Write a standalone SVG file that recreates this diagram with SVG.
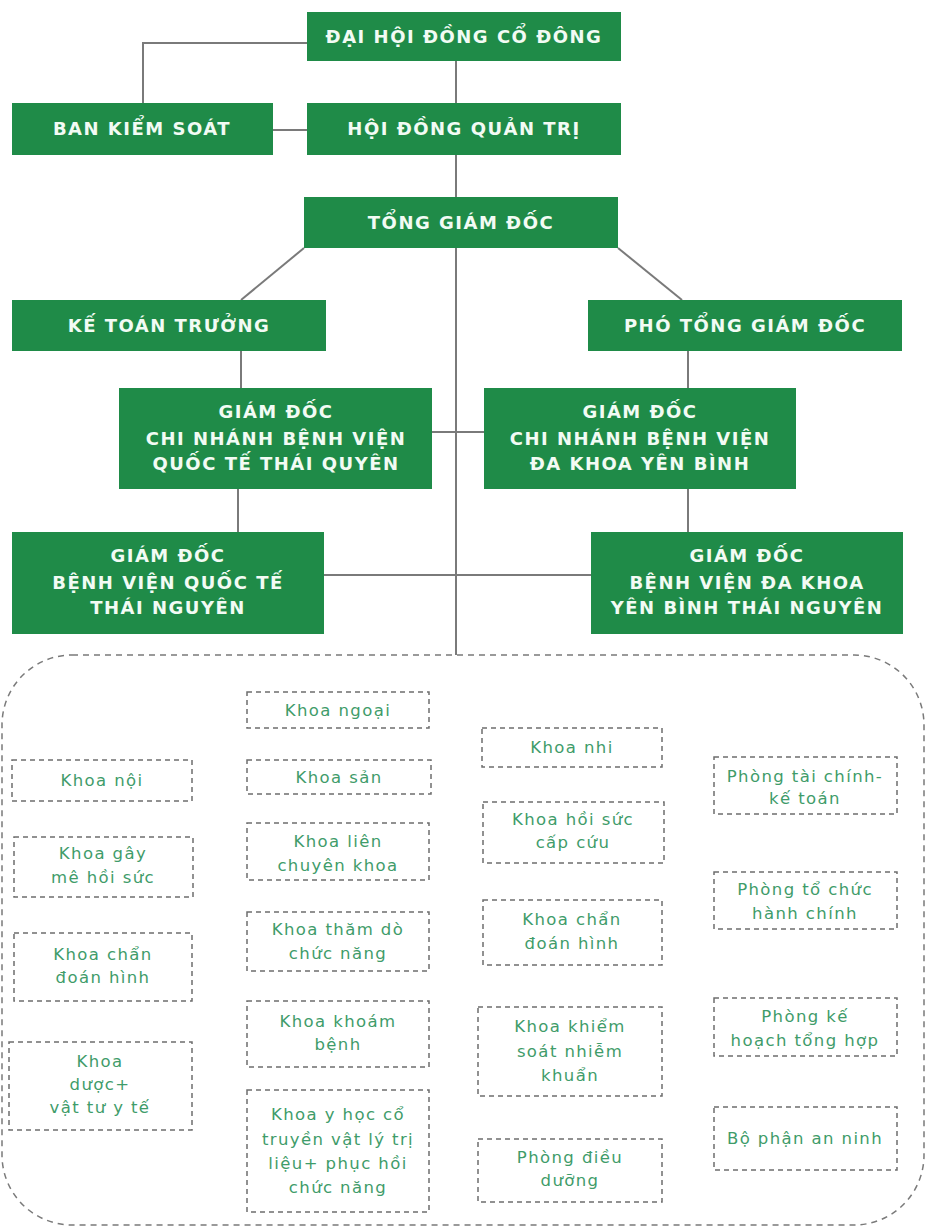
<svg xmlns="http://www.w3.org/2000/svg" width="927" height="1231" viewBox="0 0 927 1231">
<style>
.box{fill:#1f8b48}
.t{font-family:"DejaVu Sans",sans-serif;font-weight:bold;font-size:18px;fill:#f2fbf4;text-anchor:middle;letter-spacing:1.5px}
.c{stroke:#7a7a7a;stroke-width:2;fill:none}
.d{fill:#ffffff;stroke:#6e6e6e;stroke-width:1.5;stroke-dasharray:5 4}
.s{font-family:"DejaVu Sans",sans-serif;font-size:16.5px;fill:#3f9c6a;text-anchor:middle;letter-spacing:1.4px}
.frame{fill:none;stroke:#7a7a7a;stroke-width:1.5;stroke-dasharray:6 5}
</style>
<rect width="927" height="1231" fill="#ffffff"/>
<rect class="frame" x="2" y="655" width="922" height="570" rx="70"/>
<g id="connectors">
<polyline class="c" points="307,43 143,43 143,103"/>
<line class="c" x1="273" y1="130" x2="307" y2="130"/>
<line class="c" x1="456" y1="61" x2="456" y2="103"/>
<line class="c" x1="456" y1="155" x2="456" y2="197"/>
<line class="c" x1="456" y1="248" x2="456" y2="655"/>
<line class="c" x1="304" y1="248" x2="241" y2="300"/>
<line class="c" x1="618" y1="248" x2="682" y2="300"/>
<line class="c" x1="241" y1="351" x2="241" y2="388"/>
<line class="c" x1="688" y1="351" x2="688" y2="388"/>
<line class="c" x1="432" y1="432" x2="484" y2="432"/>
<line class="c" x1="238" y1="489" x2="238" y2="532"/>
<line class="c" x1="688" y1="489" x2="688" y2="532"/>
<line class="c" x1="324" y1="575" x2="591" y2="575"/>
</g>
<g id="dhdcd"><rect class="box" x="307" y="12" width="314" height="49"/><text class="t" x="464" y="43">ĐẠI HỘI ĐỒNG CỔ ĐÔNG</text></g>
<g id="bks"><rect class="box" x="12" y="103" width="261" height="52"/><text class="t" x="142" y="135">BAN KIỂM SOÁT</text></g>
<g id="hdqt"><rect class="box" x="307" y="103" width="314" height="52"/><text class="t" x="464" y="135">HỘI ĐỒNG QUẢN TRỊ</text></g>
<g id="tgd"><rect class="box" x="304" y="197" width="314" height="51"/><text class="t" x="461" y="229">TỔNG GIÁM ĐỐC</text></g>
<g id="ktt"><rect class="box" x="12" y="300" width="314" height="51"/><text class="t" x="169" y="332">KẾ TOÁN TRƯỞNG</text></g>
<g id="ptgd"><rect class="box" x="588" y="300" width="314" height="51"/><text class="t" x="745" y="332">PHÓ TỔNG GIÁM ĐỐC</text></g>
<g id="cn-qt"><rect class="box" x="119" y="388" width="313" height="101"/><text class="t" x="276" y="418">GIÁM ĐỐC</text><text class="t" x="276" y="445">CHI NHÁNH BỆNH VIỆN</text><text class="t" x="276" y="470">QUỐC TẾ THÁI QUYÊN</text></g>
<g id="cn-yb"><rect class="box" x="484" y="388" width="312" height="101"/><text class="t" x="640" y="418">GIÁM ĐỐC</text><text class="t" x="640" y="445">CHI NHÁNH BỆNH VIỆN</text><text class="t" x="640" y="470">ĐA KHOA YÊN BÌNH</text></g>
<g id="bv-qt"><rect class="box" x="12" y="532" width="312" height="102"/><text class="t" x="168" y="562">GIÁM ĐỐC</text><text class="t" x="168" y="589">BỆNH VIỆN QUỐC TẾ</text><text class="t" x="168" y="614">THÁI NGUYÊN</text></g>
<g id="bv-yb"><rect class="box" x="591" y="532" width="312" height="102"/><text class="t" x="747" y="562">GIÁM ĐỐC</text><text class="t" x="747" y="589">BỆNH VIỆN ĐA KHOA</text><text class="t" x="747" y="614">YÊN BÌNH THÁI NGUYÊN</text></g>

<g id="khoa-noi"><rect class="d" x="12" y="760" width="180" height="41"/><text class="s" x="102" y="786">Khoa nội</text></g>
<g id="khoa-gay-me"><rect class="d" x="14" y="837" width="179" height="60"/><text class="s" x="103" y="859">Khoa gây</text><text class="s" x="103" y="883">mê hồi sức</text></g>
<g id="khoa-chan-doan-1"><rect class="d" x="14" y="933" width="178" height="68"/><text class="s" x="103" y="960">Khoa chẩn</text><text class="s" x="103" y="983">đoán hình</text></g>
<g id="khoa-duoc"><rect class="d" x="9" y="1042" width="183" height="88"/><text class="s" x="100" y="1067">Khoa</text><text class="s" x="100" y="1090">dược+</text><text class="s" x="100" y="1113">vật tư y tế</text></g>

<g id="khoa-ngoai"><rect class="d" x="247" y="692" width="182" height="36"/><text class="s" x="338" y="716">Khoa ngoại</text></g>
<g id="khoa-san"><rect class="d" x="247" y="760" width="184" height="34"/><text class="s" x="339" y="783">Khoa sản</text></g>
<g id="khoa-lien-ck"><rect class="d" x="247" y="823" width="182" height="57"/><text class="s" x="338" y="847">Khoa liên</text><text class="s" x="338" y="871">chuyên khoa</text></g>
<g id="khoa-tham-do"><rect class="d" x="247" y="912" width="182" height="59"/><text class="s" x="338" y="935">Khoa thăm dò</text><text class="s" x="338" y="959">chức năng</text></g>
<g id="khoa-kham"><rect class="d" x="247" y="1001" width="182" height="66"/><text class="s" x="338" y="1027">Khoa khoám</text><text class="s" x="338" y="1050">bệnh</text></g>
<g id="khoa-yhct"><rect class="d" x="247" y="1090" width="182" height="122"/><text class="s" x="338" y="1120">Khoa y học cổ</text><text class="s" x="338" y="1145">truyền vật lý trị</text><text class="s" x="338" y="1169">liệu+ phục hồi</text><text class="s" x="338" y="1193">chức năng</text></g>

<g id="khoa-nhi"><rect class="d" x="482" y="728" width="180" height="39"/><text class="s" x="572" y="753">Khoa nhi</text></g>
<g id="khoa-hscc"><rect class="d" x="483" y="802" width="181" height="61"/><text class="s" x="573" y="825">Khoa hồi sức</text><text class="s" x="573" y="848">cấp cứu</text></g>
<g id="khoa-chan-doan-2"><rect class="d" x="483" y="900" width="179" height="65"/><text class="s" x="572" y="925">Khoa chẩn</text><text class="s" x="572" y="949">đoán hình</text></g>
<g id="khoa-ksnk"><rect class="d" x="478" y="1007" width="184" height="89"/><text class="s" x="570" y="1032">Khoa khiểm</text><text class="s" x="570" y="1057">soát nhiễm</text><text class="s" x="570" y="1081">khuẩn</text></g>
<g id="phong-dieu-duong"><rect class="d" x="478" y="1139" width="184" height="63"/><text class="s" x="570" y="1163">Phòng điều</text><text class="s" x="570" y="1186">dưỡng</text></g>

<g id="phong-tckt"><rect class="d" x="714" y="757" width="183" height="57"/><text class="s" x="805" y="782">Phòng tài chính-</text><text class="s" x="805" y="804">kế toán</text></g>
<g id="phong-tchc"><rect class="d" x="714" y="872" width="183" height="57"/><text class="s" x="805" y="895">Phòng tổ chức</text><text class="s" x="805" y="919">hành chính</text></g>
<g id="phong-khth"><rect class="d" x="714" y="998" width="183" height="58"/><text class="s" x="805" y="1022">Phòng kế</text><text class="s" x="805" y="1046">hoạch tổng hợp</text></g>
<g id="bo-phan-an-ninh"><rect class="d" x="714" y="1107" width="183" height="63"/><text class="s" x="805" y="1144">Bộ phận an ninh</text></g>
</svg>
